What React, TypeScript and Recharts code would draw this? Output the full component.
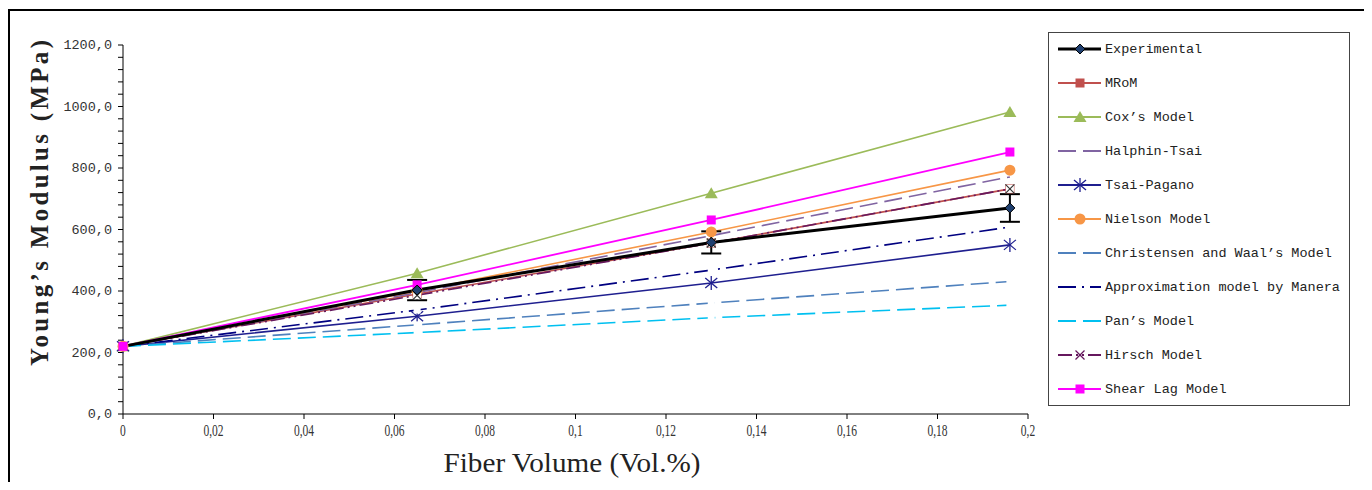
import React from 'react';
import { LineChart, Line, XAxis, YAxis, ErrorBar } from 'recharts';

// ---------- data ----------
const fiberVolume = [0, 0.065, 0.13, 0.196];
const experimental = [220, 403, 558, 670];
const experimentalError = [0, 33, 36, 45];
const mrom = [220, 390, 556, 732];
const cox = [220, 458, 718, 982];
const halphinTsai = [220, 395, 580, 771];
const tsaiPagano = [220, 318, 426, 550];
const nielson = [220, 400, 592, 793];
const christensen = [220, 290, 361, 431];
const manera = [220, 338, 468, 608];
const pan = [220, 265, 313, 354];
const hirsch = [220, 386, 556, 732];
const shearLag = [220, 420, 631, 852];

const xTicks = [0, 0.02, 0.04, 0.06, 0.08, 0.1, 0.12, 0.14, 0.16, 0.18, 0.2];
const yTicks = [
  0, 40, 80, 120, 160, 200, 240, 280, 320, 360, 400, 440, 480, 520, 560, 600,
  640, 680, 720, 760, 800, 840, 880, 920, 960, 1000, 1040, 1080, 1120, 1160, 1200,
];
const yMajorStep = 200;

const xTitle = 'Fiber Volume (Vol.%)';
const yTitle = 'Young\u2019s Modulus (MPa)';

type MarkerType = 'diamond' | 'square' | 'triangle' | 'circle' | 'star' | 'x' | 'blank' | 'none';

interface SeriesDef {
  key: string;
  name: string;
  values: number[];
  color: string;
  width: number;
  dash?: string;
  marker: MarkerType;
}

const seriesDefs: SeriesDef[] = [
  { key: 'experimental', name: 'Experimental', values: experimental, color: '#000000', width: 3, marker: 'diamond' },
  { key: 'mrom', name: 'MRoM', values: mrom, color: '#C0504D', width: 1.6, marker: 'square' },
  { key: 'cox', name: 'Cox\u2019s Model', values: cox, color: '#9BBB59', width: 1.6, marker: 'triangle' },
  { key: 'halphin', name: 'Halphin-Tsai', values: halphinTsai, color: '#8064A2', width: 1.6, dash: '18 7', marker: 'none' },
  { key: 'tsai', name: 'Tsai-Pagano', values: tsaiPagano, color: '#1F1F8F', width: 1.6, marker: 'star' },
  { key: 'nielson', name: 'Nielson Model', values: nielson, color: '#F79646', width: 1.6, marker: 'circle' },
  { key: 'christensen', name: 'Christensen and Waal\u2019s Model', values: christensen, color: '#4F81BD', width: 1.6, dash: '18 7', marker: 'blank' },
  { key: 'manera', name: 'Approximation model by Manera', values: manera, color: '#000080', width: 1.6, dash: '18 6 2 6', marker: 'blank' },
  { key: 'pan', name: 'Pan\u2019s Model', values: pan, color: '#00C0F0', width: 1.6, dash: '18 7', marker: 'blank' },
  { key: 'hirsch', name: 'Hirsch Model', values: hirsch, color: '#66185E', width: 1.6, dash: '14 4 2 4 2 4', marker: 'x' },
  { key: 'shear', name: 'Shear Lag Model', values: shearLag, color: '#FF00FF', width: 1.8, marker: 'square' },
];

const chartData = fiberVolume.map((x, i) => {
  const row: Record<string, number> = { x, expErr: experimentalError[i] };
  seriesDefs.forEach((s) => {
    row[s.key] = s.values[i];
  });
  return row;
});

// ---------- markers ----------
function Marker({ type, cx, cy, color, legend }: { type: MarkerType; cx: number; cy: number; color: string; legend?: boolean }) {
  switch (type) {
    case 'diamond':
      return (
        <polygon
          points={`${cx},${cy - 5} ${cx + 5},${cy} ${cx},${cy + 5} ${cx - 5},${cy}`}
          fill="#1F3F6F"
          stroke="#000"
          strokeWidth={1}
        />
      );
    case 'square':
      return <rect x={cx - 4.5} y={cy - 4.5} width={9} height={9} fill={color} />;
    case 'triangle':
      return <polygon points={`${cx},${cy - 6} ${cx + 6.5},${cy + 5} ${cx - 6.5},${cy + 5}`} fill={color} />;
    case 'circle':
      return <circle cx={cx} cy={cy} r={5.5} fill={color} />;
    case 'star':
      return (
        <g stroke={color} strokeWidth={1.3}>
          <line x1={cx} y1={cy - 7} x2={cx} y2={cy + 7} />
          <line x1={cx - 6} y1={cy - 5} x2={cx + 6} y2={cy + 5} />
          <line x1={cx - 6} y1={cy + 5} x2={cx + 6} y2={cy - 5} />
        </g>
      );
    case 'x':
      return (
        <g>
          {!legend && <rect x={cx - 4} y={cy - 4} width={8} height={8} fill="#fff" />}
          <g stroke={legend ? color : '#333'} strokeWidth={1.2}>
            <line x1={cx - 4.5} y1={cy - 4.5} x2={cx + 4.5} y2={cy + 4.5} />
            <line x1={cx - 4.5} y1={cy + 4.5} x2={cx + 4.5} y2={cy - 4.5} />
          </g>
        </g>
      );
    case 'blank':
      return legend ? null : <rect x={cx - 3.5} y={cy - 3.5} width={7} height={7} fill="#fff" />;
    default:
      return null;
  }
}

// ---------- ticks ----------
const fmtX = (v: number) => String(Math.round(v * 100) / 100).replace('.', ',');
const fmtY = (v: number) => v.toFixed(1).replace('.', ',');

const XTick = (props: any) => {
  const { x, y, payload } = props;
  return (
    <g transform={`translate(${x} ${y + 15}) scale(0.72 1)`}>
      <text
        x={0}
        y={0}
        textAnchor="middle"
        fill="#333"
        style={{ fontFamily: "'Liberation Serif', serif", fontSize: '16px' }}
      >
        {fmtX(payload.value)}
      </text>
    </g>
  );
};

const YTick = (props: any) => {
  const { x, y, payload } = props;
  if (payload.value % yMajorStep !== 0) return <g />;
  return (
    <text
      x={x}
      y={y}
      dy={4}
      textAnchor="end"
      fill="#333"
      style={{ fontFamily: "'Liberation Mono', monospace", fontSize: '13.5px' }}
    >
      {fmtY(payload.value)}
    </text>
  );
};

// ---------- legend ----------
function LegendBox() {
  return (
    <div
      style={{
        position: 'absolute',
        left: 1040,
        top: 24,
        width: 302,
        height: 374,
        border: '1.5px solid #444',
        boxSizing: 'border-box',
        background: '#fff',
      }}
    >
      {seriesDefs.map((s, i) => (
        <div
          key={s.key}
          style={{
            position: 'absolute',
            left: 0,
            top: 6 + i * 34,
            height: 20,
            display: 'flex',
            alignItems: 'center',
            whiteSpace: 'nowrap',
          }}
        >
          <svg width={56} height={20} style={{ display: 'block' }}>
            <line
              x1={9}
              y1={10}
              x2={52}
              y2={10}
              stroke={s.color}
              strokeWidth={s.key === 'experimental' ? 3 : 2}
              strokeDasharray={s.dash}
            />
            <Marker type={s.marker} cx={31} cy={10} color={s.color} legend />
          </svg>
          <span style={{ fontFamily: "'Liberation Mono', monospace", fontSize: 13.5, color: '#222' }}>{s.name}</span>
        </div>
      ))}
    </div>
  );
}

export default function App() {
  // draw Experimental last so its line and error bars sit on top
  const drawOrder = [...seriesDefs.slice(1), seriesDefs[0]];
  return (
    <div style={{ position: 'relative', width: 1364, height: 474, overflow: 'hidden', background: '#fff' }}>
      <div
        style={{
          position: 'absolute',
          left: 0,
          top: 1,
          width: 1359,
          height: 490,
          border: '2px solid #000',
          boxSizing: 'border-box',
        }}
      />
      <div style={{ position: 'absolute', left: 0, top: 0 }}>
        <LineChart width={1360} height={474} data={chartData} margin={{ top: 37, right: 340, left: 0, bottom: 28 }}>
          <XAxis
            dataKey="x"
            type="number"
            domain={[0, 0.2]}
            ticks={xTicks}
            interval={0}
            tick={XTick}
            tickSize={5}
            height={40}
            stroke="#000"
            tickLine={{ stroke: '#000' }}
            axisLine={{ stroke: '#000' }}
          />
          <YAxis
            type="number"
            domain={[0, 1200]}
            ticks={yTicks}
            interval={0}
            tick={YTick}
            tickSize={5}
            tickMargin={6}
            width={115}
            stroke="#000"
            tickLine={{ stroke: '#000' }}
            axisLine={{ stroke: '#000' }}
          />
          {drawOrder.map((s) => (
            <Line
              key={s.key}
              dataKey={s.key}
              name={s.name}
              type="linear"
              stroke={s.color}
              strokeWidth={s.width}
              strokeDasharray={s.dash}
              isAnimationActive={false}
              activeDot={false}
              dot={(p: any) => (
                <g key={`${s.key}-${p.index}`}>
                  {p.cx != null && p.cy != null && !(s.key === 'experimental' && p.index === 0) ? (
                    <Marker type={s.marker} cx={p.cx} cy={p.cy} color={s.color} />
                  ) : null}
                </g>
              )}
            >
              {s.key === 'experimental' ? (
                <ErrorBar dataKey="expErr" width={10} stroke="#000" strokeWidth={2} direction="y" />
              ) : null}
            </Line>
          ))}
        </LineChart>
      </div>
      <svg width={1364} height={474} style={{ position: 'absolute', left: 0, top: 0, pointerEvents: 'none' }}>
        <text
          x={564}
          y={464}
          textAnchor="middle"
          fontFamily="'Liberation Serif', serif"
          fontSize={27}
          fill="#222"
          textLength={257}
          lengthAdjust="spacingAndGlyphs"
        >
          {xTitle}
        </text>
        <text
          transform="translate(40 195) rotate(-90)"
          textAnchor="middle"
          fontFamily="'Liberation Serif', serif"
          fontWeight="bold"
          fontSize={25}
          fill="#222"
          textLength={326}
          lengthAdjust="spacing"
        >
          {yTitle}
        </text>
      </svg>
      <LegendBox />
    </div>
  );
}
